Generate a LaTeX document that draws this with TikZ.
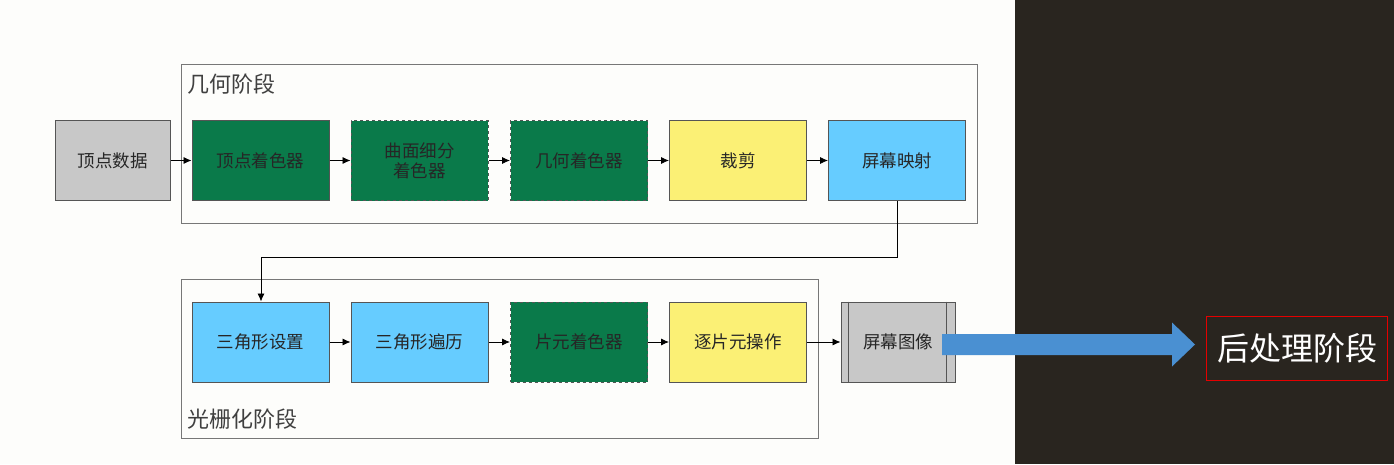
\documentclass[tikz,border=0pt]{standalone}
\usepackage{fontspec}
\setmainfont{Noto Sans CJK SC}
\usetikzlibrary{arrows.meta}
\definecolor{bgw}{HTML}{FDFDFB}
\definecolor{bgd}{HTML}{29251F}
\definecolor{gr}{HTML}{0A7A4A}
\definecolor{bl}{HTML}{66CCFF}
\definecolor{yl}{HTML}{FBF075}
\definecolor{gy}{HTML}{C8C8C8}
\definecolor{bd}{HTML}{555555}
\definecolor{arr}{HTML}{4A90D2}
\tikzset{
  stagebox/.style={draw=bd, line width=1pt, minimum width=137pt, minimum height=80pt, inner sep=0pt, font=\fontsize{17.5}{20}\selectfont, text=black!85, align=center},
  frame/.style={draw=bd!80, line width=1pt},
  conn/.style={draw=black, line width=0.8pt, -{Latex[length=8pt,width=7pt]}},
  lbl/.style={font=\fontsize{22}{24}\selectfont, text=black!75, anchor=west, inner sep=0pt}
}
\begin{document}
\begin{tikzpicture}[x=1pt,y=-1pt]
\useasboundingbox (0,0) rectangle (1394,464);
\fill[bgw] (0,0) rectangle (1015,464);
\fill[bgd] (1015,0) rectangle (1394,464);
% stage frames
\draw[frame] (181,64) rectangle (977,223);
\node[lbl] (geolbl) at (187,84) {几何阶段};
\draw[frame] (181,279) rectangle (818,438);
\node[lbl] (raslbl) at (187,419) {光栅化阶段};
% row 1
\node[stagebox, fill=gy, minimum width=115pt] (vd) at (112.5,160.5) {顶点数据};
\node[stagebox, fill=gr] (vs) at (260.5,160.5) {顶点着色器};
\node[stagebox, fill=gr, dashed] (ts) at (419.5,160.5) {曲面细分\\着色器};
\node[stagebox, fill=gr, dashed] (gs) at (579,160.5) {几何着色器};
\node[stagebox, fill=yl] (cl) at (738,160.5) {裁剪};
\node[stagebox, fill=bl] (sm) at (897,160.5) {屏幕映射};
% row 2
\node[stagebox, fill=bl] (tsu) at (260.5,342) {三角形设置};
\node[stagebox, fill=bl] (ttr) at (419.5,342) {三角形遍历};
\node[stagebox, fill=gr, dashed] (fs) at (579,342) {片元着色器};
\node[stagebox, fill=yl] (pf) at (738,342) {逐片元操作};
\node[stagebox, fill=gy, minimum width=114pt] (si) at (898,342) {屏幕图像};
\draw[bd, line width=1pt] ([xshift=8pt]si.north west) -- ([xshift=8pt]si.south west);
\draw[bd, line width=1pt] ([xshift=-9pt]si.north east) -- ([xshift=-9pt]si.south east);
% connectors
\draw[conn] (vd) -- (vs);
\draw[conn] (vs) -- (ts);
\draw[conn] (ts) -- (gs);
\draw[conn] (gs) -- (cl);
\draw[conn] (cl) -- (sm);
\coordinate (bend) at (897,257);
\draw[conn] (sm.south) -- (bend) -| (tsu.north -| 261,0);
\draw[conn] (tsu) -- (ttr);
\draw[conn] (ttr) -- (fs);
\draw[conn] (fs) -- (pf);
\draw[conn] (pf) -- (si);
% post processing
\node[draw=red!90!black, line width=1pt, minimum width=181pt, minimum height=64pt, inner sep=0pt, text=white, font=\fontsize{32}{36}\selectfont] (pp) at (1297,348.5) {后处理阶段};
\coordinate (at0) at (942,344.5);
\coordinate (atip) at (1195,344.5);
\fill[arr] ([yshift=-10.5pt]at0) -- ([xshift=-23pt,yshift=-10.5pt]atip) -- ([xshift=-23pt,yshift=-22pt]atip) -- (atip) -- ([xshift=-23pt,yshift=22pt]atip) -- ([xshift=-23pt,yshift=10.5pt]atip) -- ([yshift=10.5pt]at0) -- cycle;
\end{tikzpicture}
\end{document}
